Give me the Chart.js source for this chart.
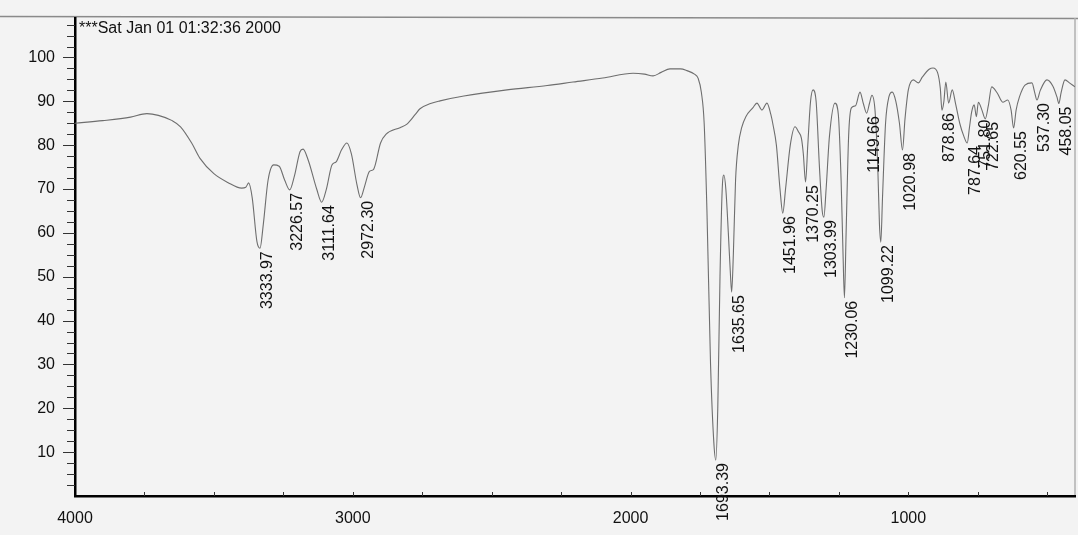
<!DOCTYPE html>
<html><head><meta charset="utf-8">
<script src="https://cdn.jsdelivr.net/npm/chart.js@4/dist/chart.umd.min.js"></script>
<style>html,body{margin:0;padding:0;background:#f3f3f3;} #wrap{width:1078px;height:535px;}</style>
</head><body><div id="wrap"><canvas id="c" width="1078" height="535"></canvas></div>
<script>
const wavenumbers = [4000,3900,3800,3741,3700,3650,3620,3580,3550,3500,3450,3400,3385,3375,3362,3345,3334,3322,3305,3285,3265,3245,3227,3210,3190,3179,3160,3130,3112,3095,3075,3060,3040,3021,3005,2985,2972,2958,2940,2925,2900,2880,2830,2805,2775,2758,2720,2686,2600,2445,2300,2207,2100,1991,1950,1919,1890,1858,1820,1797,1770,1757,1745,1735,1725,1712,1700,1693,1686,1678,1670,1664,1657,1648,1640,1636,1630,1622,1612,1600,1585,1560,1545,1527,1509,1495,1487,1475,1462,1452,1442,1425,1408,1395,1385,1378,1370,1362,1352,1343,1332,1320,1310,1304,1296,1284,1264,1252,1242,1235,1230,1224,1215,1205,1190,1174,1162,1150,1140,1131,1120,1110,1104,1099,1093,1082,1070,1058,1045,1032,1021,1012,1000,982,964,950,925,911,895,885,879,872,865,855,842,830,815,800,788,780,772,763,755,748,735,723,712,700,680,660,642,630,621,612,600,580,555,545,537,525,501,480,465,458,450,436,420,400];
const transmittance = [85.0,85.6,86.4,87.2,86.8,85.6,84.2,80.5,77.0,73.5,71.5,70.2,70.4,71.4,68,58,56.5,62,72,75.5,75.2,72,69.8,73,78.5,79.1,76.5,70,67.0,70,75.5,76.2,79,80.5,78,71,68.0,70.5,74,74.5,80.5,82.5,84,84.8,87,88.3,89.5,90.1,91.2,92.6,93.6,94.4,95.3,96.4,96.2,95.8,96.6,97.4,97.4,97.0,96.2,95.3,92,85,65,30,12,8.2,20,50,70,73.2,70,60,50,46.5,55,72,80,84,86.5,88.5,89.6,88,89.6,87,84.6,80,70,64.5,70,80,84.2,83,81.6,78,71.6,80,90,92.6,90,75,65,63.6,70,82,89.6,87,72,55,45.2,60,82,88.5,89,92.1,89.5,87.3,89.5,91.4,88,75,62,57.9,68,85,91,92.1,90,85,78.9,86,92.6,94.9,94.2,95.5,97.3,97.6,96.6,93,88.0,90,94.4,89.6,92.6,89.5,85,82,80.5,84,87.6,89.2,86.5,89.8,88,86,89,93.3,91.9,89.8,90.3,88,83.9,88,91,93.7,94.2,92,90.3,92.5,94.9,93.5,91,89.5,92,94.9,94.2,93.3];
const peakWavenumbers = [3333.97,3226.57,3111.64,2972.30,1693.39,1635.65,1451.96,1370.25,1303.99,1230.06,1149.66,1099.22,1020.98,878.86,787.64,751.80,722.65,620.55,537.30,458.05];
const peakTransmittance = [56.5,69.8,67.0,68.0,8.2,46.5,64.5,71.6,63.6,45.2,87.3,57.9,78.9,88.0,80.5,86.5,86.0,83.9,90.3,89.5];
const peakLabels = ['3333.97','3226.57','3111.64','2972.30','1693.39','1635.65','1451.96','1370.25','1303.99','1230.06','1149.66','1099.22','1020.98','878.86','787.64','751.80','722.65','620.55','537.30','458.05'];
const yTickLabels = [10,20,30,40,50,60,70,80,90,100];
const xTickLabels = [4000,3000,2000,1000];
const yMinorTicks = [2.5,5,7.5,10,12.5,15,17.5,20,22.5,25,27.5,30,32.5,35,37.5,40,42.5,45,47.5,50,52.5,55,57.5,60,62.5,65,67.5,70,72.5,75,77.5,80,82.5,85,87.5,90,92.5,95,97.5,100,102.5,105,107.5];
const xMinorTicks = [3750,3500,3250,3000,2750,2500,2250,2000,1750,1500,1250,1000,750,500];
const titleText = '***Sat Jan 01 01:32:36 2000';

const FONT = '"Liberation Sans", Arial, sans-serif';
const points = wavenumbers.map((w,i)=>({x:w,y:transmittance[i]}));

const decor = {
  id:'decor',
  beforeDraw(chart){
    const ctx=chart.ctx, a=chart.chartArea;
    ctx.save();
    ctx.strokeStyle='#8a8a8a'; ctx.lineWidth=1.5;
    ctx.beginPath(); ctx.moveTo(0,16.5); ctx.lineTo(1078,18.5); ctx.stroke();
    ctx.strokeStyle='#b0b0b0'; ctx.lineWidth=1.5;
    ctx.beginPath(); ctx.moveTo(a.right,18); ctx.lineTo(a.right,a.bottom); ctx.stroke();
    ctx.restore();
  },
  afterDraw(chart){
    const ctx=chart.ctx, a=chart.chartArea, xs=chart.scales.x, ys=chart.scales.y;
    ctx.save();
    ctx.strokeStyle='#333'; ctx.lineWidth=1;
    yMinorTicks.forEach(v=>{
      const py=Math.round(ys.getPixelForValue(v))+0.5;
      const len = yTickLabels.includes(v)?12:8;
      ctx.beginPath(); ctx.moveTo(a.left-len,py); ctx.lineTo(a.left,py); ctx.stroke();
    });
    xMinorTicks.forEach(v=>{
      const px=Math.round(xs.getPixelForValue(v))+0.5;
      ctx.beginPath(); ctx.moveTo(px,a.bottom-4); ctx.lineTo(px,a.bottom); ctx.stroke();
    });
    ctx.fillStyle='#111';
    ctx.font='16px '+FONT;
    ctx.textAlign='left'; ctx.textBaseline='middle';
    ctx.fillText(titleText, a.left+4, 29);
    ctx.font='16px '+FONT;
    peakLabels.forEach((t,i)=>{
      const px=xs.getPixelForValue(peakWavenumbers[i])+8;
      const py=ys.getPixelForValue(peakTransmittance[i])+3;
      ctx.save();
      ctx.translate(px,py); ctx.rotate(-Math.PI/2);
      ctx.textAlign='right'; ctx.textBaseline='middle';
      ctx.fillText(t,0,0);
      ctx.restore();
    });
    ctx.restore();
  }
};

new Chart(document.getElementById('c'),{
  type:'line',
  data:{datasets:[{data:points,borderColor:'#6e6e6e',borderWidth:1.1,pointRadius:0,cubicInterpolationMode:'monotone',fill:false}]},
  options:{
    responsive:false, animation:false, devicePixelRatio:1,
    layout:{padding:{left:0,top:18,right:3,bottom:0}},
    plugins:{legend:{display:false},tooltip:{enabled:false}},
    scales:{
      x:{type:'linear',reverse:true,min:400,max:4000,
        afterBuildTicks:s=>{s.ticks=xTickLabels.map(v=>({value:v}));},
        afterFit:s=>{s.height=39;s.paddingLeft=0;s.paddingRight=0;},
        grid:{display:false,drawTicks:false},
        border:{display:true,color:'#000',width:2.5},
        ticks:{font:{size:16,family:FONT},color:'#111',padding:13,maxRotation:0,autoSkip:false,callback:v=>String(v)}
      },
      y:{min:0,max:109,
        afterBuildTicks:s=>{s.ticks=yTickLabels.map(v=>({value:v}));},
        afterFit:s=>{s.width=75;s.paddingTop=0;s.paddingBottom=0;},
        grid:{display:false,drawTicks:false},
        border:{display:true,color:'#000',width:2.5},
        ticks:{font:{size:16,family:FONT},color:'#111',padding:20,autoSkip:false,callback:v=>String(v)}
      }
    }
  },
  plugins:[decor]
});
</script></body></html>
